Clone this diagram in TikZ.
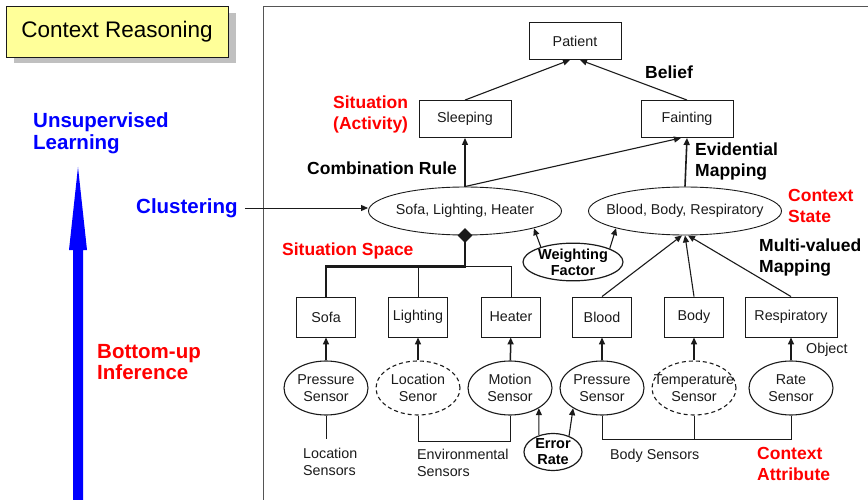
\documentclass[tikz,border=0pt]{standalone}
\usepackage{fontspec}
\setmainfont{Liberation Sans}
\usetikzlibrary{arrows.meta,shapes.geometric,positioning}
\definecolor{CtxRed}{HTML}{FF0000}
\definecolor{CtxBlue}{HTML}{0000FF}
\definecolor{CtxNote}{HTML}{FFFF99}
\definecolor{CtxShade}{HTML}{C0C0C0}
\definecolor{CtxInk}{HTML}{1A1A1A}
\definecolor{CtxFrame}{HTML}{555555}
\tikzset{
  ctxsmall/.style={font=\fontsize{14.3}{17}\selectfont,text=CtxInk},
  ctxbox/.style={
    ctxsmall,
    draw=CtxInk,
    line width=0.9pt,
    minimum width=92pt,
    minimum height=37pt,
    inner sep=2pt
  },
  ctxleaf/.style={ctxbox,minimum width=59pt,minimum height=40pt},
  ctxstate/.style={
    ctxsmall,
    ellipse,
    draw=CtxInk,
    line width=0.9pt,
    minimum width=193pt,
    minimum height=48pt,
    inner xsep=-12pt,
    inner ysep=0pt
  },
  ctxsensor/.style={
    ctxsmall,
    ellipse,
    draw=CtxInk,
    line width=1.1pt,
    minimum width=84pt,
    minimum height=54pt,
    inner xsep=-12pt,
    inner ysep=0pt,
    align=center
  },
  ctxweak/.style={ctxsensor,dash pattern=on 4pt off 3pt},
  ctxparam/.style={
    ellipse,
    draw=CtxInk,
    line width=1.2pt,
    font=\bfseries\fontsize{14.5}{16}\selectfont,
    align=center,
    inner xsep=-3pt,
    inner ysep=0pt
  },
  ctxlabel/.style={font=\bfseries\fontsize{17.5}{21}\selectfont,align=left,inner sep=0pt,anchor=west},
  ctxkey/.style={ctxlabel,text=CtxRed},
  ctxside/.style={font=\bfseries\fontsize{20.5}{21.5}\selectfont,align=left,inner sep=0pt,anchor=west},
  ctxnote/.style={ctxsmall,align=left,inner sep=0pt,anchor=west},
  ctxarrow/.style={-{Triangle[length=7pt,width=6pt]},line width=1.1pt,draw=CtxInk},
  ctxline/.style={line width=0.9pt,draw=CtxInk},
  ctxbold/.style={line width=2.4pt,draw=CtxInk}
}

\begin{document}
\begin{tikzpicture}[x=1pt,y=-1pt]
  \useasboundingbox (0,0) rectangle (868,500);

  % title tag with its drop shadow
  \fill[CtxShade] (14,13) rectangle (236,63);
  \node[draw=CtxInk,fill=CtxNote,line width=0.9pt,minimum width=222pt,minimum height=51pt,
        font=\fontsize{22.5}{25}\selectfont] (title) at (117,32) {Context Reasoning};

  % left side: learning / inference direction
  \node[ctxside,text=CtxBlue] (unsup) at (33,133) {Unsupervised\\Learning};
  \node[ctxside,text=CtxBlue] (clust) at (136,208) {Clustering};
  \node[ctxside,text=CtxRed] (bottomup) at (97,362) {Bottom-up\\Inference};
  \fill[CtxBlue] (73,500) -- (73,250) -- (69,250) -- (78,167) -- (87,250) -- (83,250) -- (83,500) -- cycle;

  % panel frame
  \draw[CtxFrame,line width=1pt] (868,7) -| (263,500);

  % situations
  \node[ctxbox] (patient) at (575,41) {Patient};
  \node[ctxbox] (sleep) at (465,119) {Sleeping};
  \node[ctxbox] (faint) at (687,119) {Fainting};

  % context states
  \node[ctxstate] (sofaEll) at (465,211) {Sofa, Lighting, Heater};
  \node[ctxstate] (bloodEll) at (685,211) {Blood, Body, Respiratory};
  \node[ctxparam,minimum width=100pt,minimum height=36pt] (weight) at (573,262) {Weighting\\Factor};

  % objects
  \node[ctxleaf] (sofa) at (326,317) {Sofa};
  \node[ctxleaf] (lighting) at (418,317) {Lighting};
  \node[ctxleaf] (heater) at (511,317) {Heater};
  \node[ctxleaf] (blood) at (602,317) {Blood};
  \node[ctxleaf] (body) at (694,317) {Body};
  \node[ctxbox,minimum height=40pt] (resp) at (791,317) {Respiratory};

  % sensors
  \node[ctxsensor] (presA) at (326,388) {Pressure\\Sensor};
  \node[ctxweak] (locSen) at (418,388) {Location\\Senor};
  \node[ctxsensor] (motion) at (510,388) {Motion\\Sensor};
  \node[ctxsensor] (presB) at (602,388) {Pressure\\Sensor};
  \node[ctxweak] (tempSen) at (694,388) {Temperature\\Sensor};
  \node[ctxsensor] (rateSen) at (791,388) {Rate\\Sensor};
  \node[ctxparam,minimum width=58pt,minimum height=36pt] (errRate) at (553,452) {Error\\Rate};

  % labels
  \node[ctxkey] (sitLbl) at (333,114) {Situation\\(Activity)};
  \node[ctxlabel] (combLbl) at (307,168) {Combination Rule};
  \node[ctxlabel] (beliefLbl) at (645,72) {Belief};
  \node[ctxlabel] (evidLbl) at (695,162) {Evidential\\Mapping};
  \node[ctxkey] (stateLbl) at (788,206) {Context\\State};
  \node[ctxlabel] (multiLbl) at (759,258) {Multi-valued\\Mapping};
  \node[ctxkey] (spaceLbl) at (282,251) {Situation Space};
  \node[ctxkey] (attrLbl) at (757,464) {Context\\Attribute};
  \node[ctxnote] (objLbl) at (806,350) {Object};
  \node[ctxnote] (locLbl) at (303,462) {Location\\Sensors};
  \node[ctxnote] (envLbl) at (417,463) {Environmental\\Sensors};
  \node[ctxnote] (bodyLbl) at (610,456) {Body Sensors};

  % clustering feeds the state
  \draw[ctxline,shorten <=7pt,-{Triangle[length=7pt,width=6pt]}] (clust.east) -- (clust.east -| sofaEll.west);

  % belief and evidence arrows
  \draw[ctxarrow] (sleep.north) -- ([xshift=-5pt]patient.south);
  \draw[ctxarrow] (faint.north) -- ([xshift=5pt]patient.south);
  \draw[ctxarrow] (sofaEll) -- (sleep);
  \draw[ctxarrow] (sofaEll.north) -- ([xshift=-6pt]faint.south);
  \draw[ctxarrow,line width=1.6pt] (bloodEll.north) -- (faint.south);

  % multi-valued mapping
  \draw[ctxarrow] (blood.north) -- ([xshift=-3pt]bloodEll.south);
  \draw[ctxarrow] (body.north) -- (bloodEll.south);
  \draw[ctxarrow] (resp.north) -- ([xshift=3pt]bloodEll.south);

  % weighting and error rate
  \draw[ctxarrow] (weight.155) -- (sofaEll.-14);
  \draw[ctxarrow] (weight.20) -- (bloodEll.194);
  \draw[ctxarrow] (errRate.130) -- (motion.-35);
  \draw[ctxarrow] (errRate.45) -- (presB.-145);

  % situation space tree
  \draw[ctxbold] (sofaEll.south) -- ++(0,31) coordinate (fork) -| (sofa.north);
  \draw[ctxline] (fork) -| (heater.north);
  \draw[ctxline] (fork -| lighting.north) -- (lighting.north);
  \node[diamond,fill=CtxInk,minimum size=15pt,inner sep=0pt] (join) at (sofaEll.south) {};

  % sensor readings
  \foreach \s/\b in {presA/sofa,locSen/lighting,motion/heater,presB/blood,tempSen/body,rateSen/resp}
    \draw[ctxarrow,line width=1.5pt] (\s) -- (\b);

  % sensor groups
  \draw[ctxline] (presA.south) -- ++(0,23);
  \draw[ctxline] (locSen.south) -- ++(0,26) -| (motion.south);
  \draw[ctxline] (presB.south) -- ++(0,24) coordinate (bodyBus) -| (rateSen.south);
  \draw[ctxline] (tempSen.south) -- (tempSen.south |- bodyBus);
\end{tikzpicture}
\end{document}
